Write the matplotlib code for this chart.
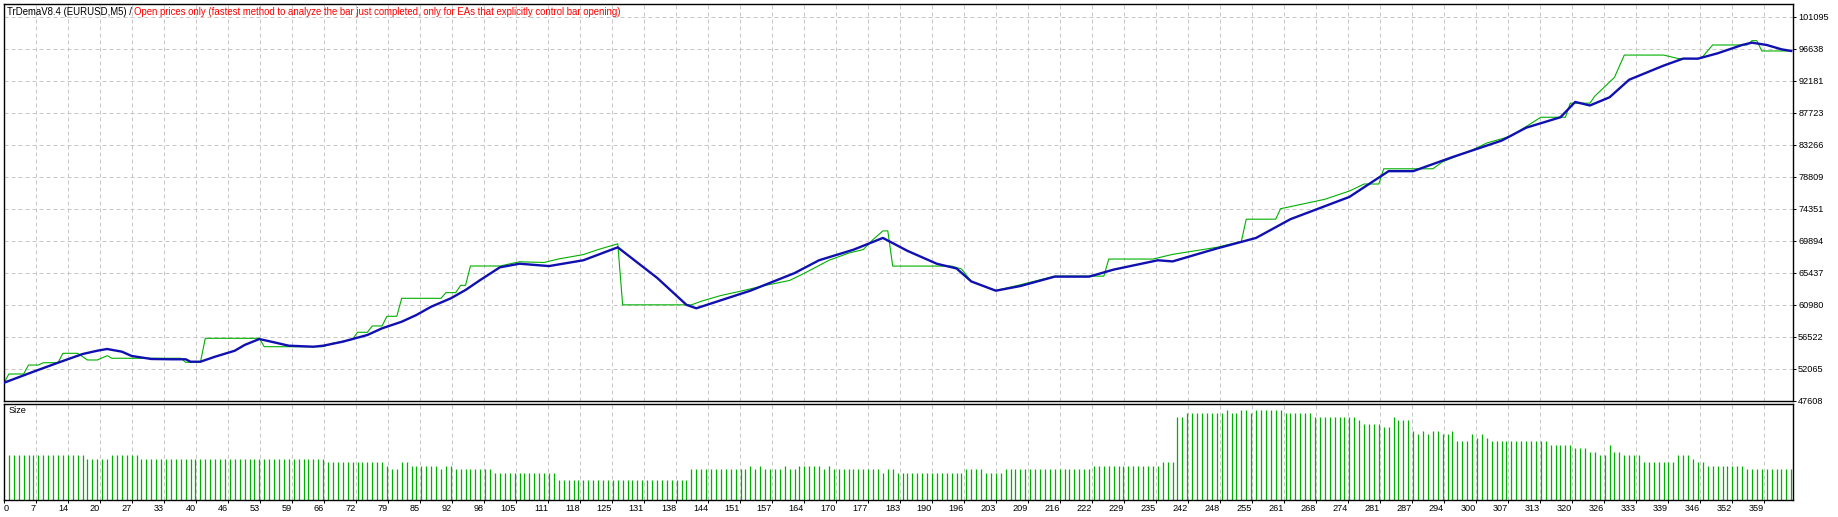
import numpy as np
import matplotlib.pyplot as plt

W, H = 1838, 517

# balance (blue) and equity (green), read at trade numbers
balance_trade = [0, 6, 11, 16, 19, 21, 24, 26, 30, 34, 37, 38, 40, 43, 47, 49, 52, 55, 58, 63, 65,
                 69, 74, 77, 81, 84, 87, 91, 94, 97, 101, 105, 111, 118, 125, 133, 139, 141, 152,
                 161, 166, 173, 179, 184, 190, 194, 197, 202, 207, 214, 221, 226, 235, 238, 247,
                 255, 262, 274, 282, 287, 295, 305, 310, 317, 320, 323, 327, 331, 338, 342, 345,
                 349, 352, 354, 356, 359, 362, 364]
balance_value = [50150, 51690, 52940, 54150, 54610, 54850, 54480, 53880, 53460, 53420, 53420, 53080,
                 53080, 53780, 54610, 55410, 56240, 55780, 55310, 55170, 55310, 55870, 56800, 57730,
                 58650, 59590, 60740, 61910, 63070, 64460, 66230, 66730, 66400, 67210, 69010, 64770,
                 61000, 60520, 62970, 65420, 67210, 68680, 70320, 68520, 66720, 66070, 64260, 62970,
                 63620, 64930, 64930, 65910, 67210, 67050, 68850, 70320, 72930, 76030, 79620, 79620,
                 81580, 83870, 85670, 87130, 89260, 88770, 89910, 92360, 94320, 95300, 95290, 96035,
                 96730, 97195, 97516, 97195, 96595, 96360]

equity_trade = [0, 1, 4, 5, 7, 8, 11, 12, 15, 17, 19, 21, 22, 36, 37, 40, 41, 52, 53, 65, 67, 71,
                72, 74, 75, 77, 78, 80, 81, 89, 90, 92, 93, 94, 95, 101, 105, 110, 113, 118, 121,
                125, 126, 140, 142, 146, 150, 155, 160, 163, 168, 172, 175, 177, 179, 180, 181, 193,
                195, 197, 202, 207, 214, 224, 225, 234, 238, 247, 252, 253, 259, 260, 269, 274,
                277, 280, 281, 291, 293, 299, 302, 307, 310, 313, 318, 319, 323, 324, 328, 330,
                338, 341, 345, 346, 348, 355, 356, 357, 358, 364]
equity_value = [50150, 51370, 51370, 52620, 52620, 52940, 52940, 54250, 54250, 53320, 53320, 53920,
                53560, 53560, 53000, 53000, 56340, 56340, 55170, 55170, 55650, 56200, 57180, 57180,
                58060, 58060, 59410, 59410, 61910, 61910, 62700, 62700, 63720, 63720, 66410, 66410,
                67000, 66900, 67400, 68000, 68700, 69500, 61000, 61000, 61500, 62300, 62900, 63700,
                64400, 65400, 67200, 68200, 68700, 70100, 71300, 71300, 66400, 66400, 66000, 64260,
                63000, 63800, 65000, 65000, 67380, 67380, 68030, 69010, 69830, 72930, 72930, 74390,
                75700, 76850, 77830, 77830, 79950, 79950, 80930, 82560, 83540, 84520, 85830, 87130,
                87130, 89090, 89090, 90070, 92690, 95790, 95790, 95300, 95290, 95600, 97195, 97195,
                97795, 97795, 96360, 96360]

# position size per trade, as (level, number of consecutive trades)
size_level = [1.2, 1.1, 1.2, 1.1, 1.0, 0.9, 0.8, 1.0, 0.9, 0.8, 0.9, 0.8, 0.7, 0.5, 0.8, 0.9,
              0.8, 0.9, 0.8, 0.9, 0.8, 0.9, 0.8, 0.9, 0.8, 0.7, 0.8, 0.7, 0.8, 0.7, 0.8, 0.9,
              1.0, 2.3, 2.4, 2.5, 2.4, 2.5, 2.4, 2.5, 2.4, 2.3, 2.2, 2.1, 2.0, 2.3, 2.2, 1.9,
              1.8, 1.9, 1.8, 1.9, 1.8, 1.9, 1.6, 1.8, 1.7, 1.8, 1.7, 1.6, 1.5, 1.4, 1.3, 1.2,
              1.5, 1.3, 1.2, 1.0, 1.2, 1.1, 1.0, 0.9, 0.8]
size_run = [16, 5, 6, 38, 12, 1, 2, 2, 6, 1, 2, 8, 13, 27, 12, 1,
            1, 1, 4, 1, 2, 5, 1, 1, 10, 1, 2, 14, 4, 4, 18, 14,
            3, 2, 8, 1, 2, 2, 1, 6, 6, 9, 1, 4, 2, 1, 3, 1,
            1, 1, 1, 2, 2, 1, 3, 1, 1, 1, 1, 12, 5, 3, 2, 2,
            1, 2, 4, 7, 3, 1, 2, 8, 10]

y_tick_labels = ["47608", "52065", "56522", "60980", "65437", "69894", "74351",
                 "78809", "83266", "87723", "92181", "96638", "101095"]
x_tick_labels = [0, 7, 14, 20, 27, 33, 40, 46, 53, 59, 66, 72, 79, 85, 92, 98, 105, 111, 118,
                 125, 131, 138, 144, 151, 157, 164, 170, 177, 183, 190, 196, 203, 209, 216, 222,
                 229, 235, 242, 248, 255, 261, 268, 274, 281, 287, 294, 300, 307, 313, 320, 326,
                 333, 339, 346, 352, 359]

title_black = "TrDemaV8.4 (EURUSD,M5) / "
title_red = ("Open prices only (fastest method to analyze the bar just completed, "
             "only for EAs that explicitly control bar opening)")

FONT = "Liberation Sans"
FS = 6.6
FS_TITLE = 6.9
GRID = "#c8c8c8"
GREEN = "#00b000"
BLUE = "#1010b0"


def fx(px):
    return px / W


def fy(py):
    return 1 - py / H


sizes = np.repeat(size_level, size_run)
trades = np.arange(1, len(sizes) + 1)

px_per_trade = 4.91
left, right = 4, 1793
xmax = (right - left) / px_per_trade
grid_step = 32 / px_per_trade
xticks = np.arange(len(x_tick_labels)) * grid_step

yvals = [float(v) for v in y_tick_labels]
val_per_px = (yvals[1] - yvals[0]) / 32

fig = plt.figure(figsize=(W / 100, H / 100), dpi=100, facecolor="white")

# main panel
ax = fig.add_axes([fx(left), fy(401), fx(right) - fx(left), fy(4) - fy(401)])
ax.set_xlim(0, xmax)
ax.set_ylim(yvals[0], yvals[0] + 397 * val_per_px)
for y in yvals[1:]:
    ax.axhline(y, color=GRID, lw=0.72, dashes=(4, 3), zorder=0)
for x in xticks[1:]:
    ax.axvline(x, color=GRID, lw=0.72, dashes=(4, 3), zorder=0)
ax.plot(equity_trade, equity_value, color=GREEN, lw=0.8, zorder=2)
ax.plot(balance_trade, balance_value, color=BLUE, lw=1.7, zorder=3)
ax.set_xticks([])
ax.yaxis.tick_right()
ax.set_yticks(yvals)
ax.set_yticklabels(y_tick_labels, fontsize=FS, family=FONT)
ax.tick_params(axis="y", length=2.2, width=0.72, pad=1.5, colors="black")
for s in ax.spines.values():
    s.set_linewidth(1.0)

# size panel
ax2 = fig.add_axes([fx(left), fy(499.5), fx(right) - fx(left), fy(404) - fy(499.5)])
base = -2.3 / 35
ax2.set_xlim(0, xmax)
ax2.set_ylim(base, base + 95.5 / 35)
for x in xticks[1:]:
    ax2.axvline(x, color=GRID, lw=0.72, dashes=(4, 3), zorder=0)
ax2.vlines(trades, base, sizes, color=GREEN, lw=0.9, zorder=2)
ax2.set_yticks([])
ax2.set_xticks(xticks)
ax2.set_xticklabels([str(v) for v in x_tick_labels], fontsize=FS, family=FONT)
ax2.tick_params(axis="x", length=2.2, width=0.72, pad=1.0)
for i, lbl in enumerate(ax2.get_xticklabels()):
    lbl.set_ha("left" if i == 0 else "right")
for s in ax2.spines.values():
    s.set_linewidth(1.0)
ax2.text(0.0025, 0.93, "Size", transform=ax2.transAxes, fontsize=FS, family=FONT,
         va="center", ha="left")

# header
t1 = fig.text(fx(7), fy(12), title_black, fontsize=FS_TITLE, family=FONT, color="black",
              va="center", ha="left")
ax.annotate(title_red, xy=(1, 0), xycoords=t1, va="bottom", ha="left",
            fontsize=FS_TITLE, family=FONT, color="#ff0000")

fig.savefig("out.png", dpi=100, facecolor="white")
